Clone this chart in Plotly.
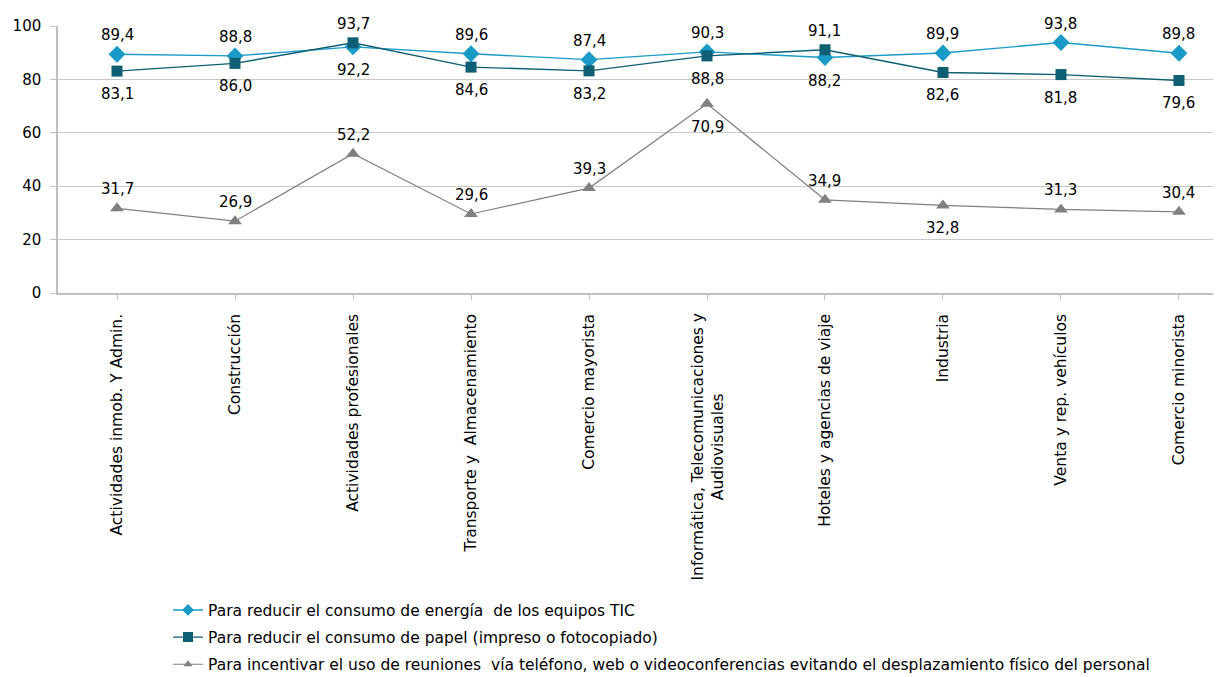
import plotly.graph_objects as go

categories = [
    "Actividades inmob. Y Admin.",
    "Construcción",
    "Actividades profesionales",
    "Transporte y  Almacenamiento",
    "Comercio mayorista",
    "Informática, Telecomunicaciones y<br>Audiovisuales",
    "Hoteles y agencias de viaje",
    "Industria",
    "Venta y rep. vehículos",
    "Comercio minorista",
]
energia = [89.4, 88.8, 92.2, 89.6, 87.4, 90.3, 88.2, 89.9, 93.8, 89.8]
papel = [83.1, 86.0, 93.7, 84.6, 83.2, 88.8, 91.1, 82.6, 81.8, 79.6]
reuniones = [31.7, 26.9, 52.2, 29.6, 39.3, 70.9, 34.9, 32.8, 31.3, 30.4]

names = [
    "Para reducir el consumo de energía  de los equipos TIC",
    "Para reducir el consumo de papel (impreso o fotocopiado)",
    "Para incentivar el uso de reuniones  vía teléfono, web o videoconferencias evitando el desplazamiento físico del personal",
]

# label side for each point: 1 = above, -1 = below
side_energia = [1, 1, -1, 1, 1, 1, -1, 1, 1, 1]
side_papel = [-1, -1, 1, -1, -1, -1, 1, -1, -1, -1]
side_reun = [1, 1, 1, 1, 1, -1, 1, -1, 1, 1]


def fmt(v):
    return f"{v:.1f}".replace(".", ",")


FONT = "DejaVu Sans, Verdana, sans-serif"
xs = list(range(len(categories)))
fig = go.Figure()
series = [
    (energia, names[0], "#1A9BC7", "diamond", 13, 9, 1.4, side_energia),
    (papel, names[1], "#0E5F73", "square", 11, 10, 1.4, side_papel),
    (reuniones, names[2], "#808080", "triangle-up", 12, 8, 1.2, side_reun),
]
for i, (vals, nm, col, sym, sz, lsz, lw, sides) in enumerate(series):
    fig.add_trace(go.Scatter(
        x=xs, y=vals, name=nm, mode="lines+markers",
        legendgroup=f"g{i}", showlegend=False,
        line=dict(color=col, width=lw),
        marker=dict(symbol=sym, size=sz, color=col),
        cliponaxis=False,
    ))
    # legend entry with smaller marker, as in the reference legend
    fig.add_trace(go.Scatter(
        x=[None], y=[None], name=nm, mode="lines+markers",
        legendgroup=f"g{i}", showlegend=True,
        line=dict(color=col, width=lw),
        marker=dict(symbol=sym, size=lsz, color=col),
    ))
    for x, v, s in zip(xs, vals, sides):
        fig.add_annotation(
            x=x, y=v, xref="x", yref="y", text=fmt(v), showarrow=False,
            yshift=19 if s > 0 else -23,
            font=dict(family=FONT, size=15, color="#000000"),
        )

# category labels: multi-line one drawn as a centred annotation
ticktext = [c if "<br>" not in c else "" for c in categories]
for i, c in enumerate(categories):
    if "<br>" in c:
        fig.add_annotation(
            x=xs[i], xref="x", y=0, yref="paper", yanchor="top", yshift=-19,
            text=c, textangle=-90, showarrow=False, align="center",
            font=dict(family=FONT, size=15.5, color="#000000"),
        )

# page body adds an 8px offset, so the figure is sized to fit the window
fig.update_layout(
    width=1213, height=669,
    margin=dict(l=50, r=0, t=18, b=384, autoexpand=False),
    paper_bgcolor="white", plot_bgcolor="white",
    font=dict(family=FONT, size=15, color="#000000"),
    showlegend=True,
    legend=dict(
        x=0.0946, y=-1.125, xanchor="left", yanchor="top",
        orientation="v", font=dict(family=FONT, size=15.5, color="#000000"),
        tracegroupgap=4, itemsizing="trace",
        bgcolor="rgba(0,0,0,0)",
    ),
)
fig.update_xaxes(
    range=[-0.5, 9.356], automargin=False,
    tickmode="array", tickvals=xs, ticktext=ticktext,
    tickangle=-90, tickfont=dict(family=FONT, size=15.5, color="#000000"),
    showgrid=False, showline=True, linecolor="#BFBFBF", linewidth=1.5,
    ticks="outside", ticklen=5, tickcolor="#BFBFBF", tickson="boundaries",
    ticklabelstandoff=8,
    zeroline=False,
)
fig.update_yaxes(
    range=[0, 100], dtick=20, automargin=False,
    showgrid=True, gridcolor="#C8C8C8", gridwidth=1.2,
    showline=True, linecolor="#BFBFBF", linewidth=1.5,
    ticks="outside", ticklen=6, tickcolor="#BFBFBF", ticklabelstandoff=6,
    tickfont=dict(family=FONT, size=15, color="#000000"),
    zeroline=False,
)
fig.write_html("out.html")
